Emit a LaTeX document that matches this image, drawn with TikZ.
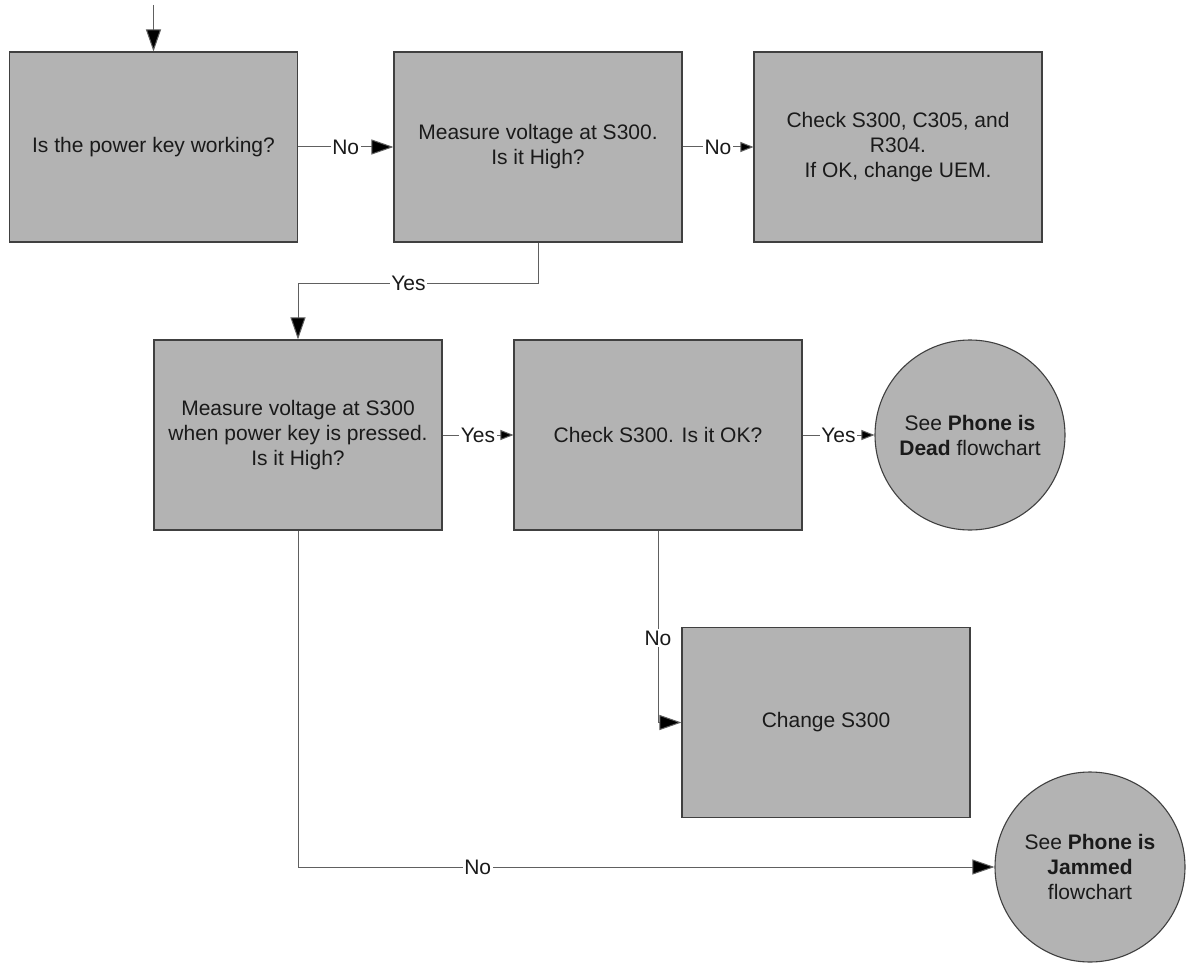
\documentclass[tikz,border=0pt]{standalone}
\usepackage{fontspec}
\setmainfont{Liberation Sans}
\usetikzlibrary{arrows.meta}
\definecolor{boxfill}{HTML}{B3B3B3}
\definecolor{boxline}{HTML}{404040}
\definecolor{conline}{HTML}{606060}
\definecolor{txtcol}{HTML}{1A1A1A}
\begin{document}
\begin{tikzpicture}[x=1pt,y=-1pt,
  every node/.style={font=\fontsize{21}{25}\selectfont, text=txtcol},
  box/.style={draw=boxline, line width=1.1pt, fill=boxfill, minimum width=288pt, minimum height=190pt, inner sep=0pt, align=center},
  endcircle/.style={draw=boxline, line width=1.1pt, fill=boxfill, circle, inner sep=0pt, minimum size=190pt, align=center},
  con/.style={draw=conline, line width=1pt},
  bigarrow/.style={con, -{Triangle[length=22pt,width=15pt,fill=black]}},
  smallarrow/.style={con, -{Triangle[length=13pt,width=10pt,fill=black]}},
  lbl/.style={fill=white, inner sep=1.5pt}
]
\useasboundingbox (0,0) rectangle (1186,963);
\fill[white] (0,0) rectangle (1186,963);

\node[box] (b1) at (153.5,147) {Is the power key working?};
\node[box] (b2) at (538,147) {Measure voltage at S300.\\Is it High?};
\node[box] (b3) at (898,147) {Check S300, C305, and\\R304.\\If OK, change UEM.};
\node[box] (b4) at (298,435) {Measure voltage at S300\\when power key is pressed.\\Is it High?};
\node[box] (b5) at (658,435) {Check S300. Is it OK?};
\node[box] (b6) at (826,722.5) {Change S300};
\node[endcircle] (c1) at (970,435) {See \textbf{Phone is}\\\textbf{Dead} flowchart};
\node[endcircle] (c2) at (1090,867) {See \textbf{Phone is}\\\textbf{Jammed}\\flowchart};

\coordinate (start) at (153.5,5);
\draw[bigarrow] (start) -- (b1.north);
\draw[bigarrow] (b1.east) -- node[lbl] (l1) {No} (b2.west);
\draw[smallarrow] (b2.east) -- node[lbl] (l2) {No} (b3.west);
\draw[bigarrow] (b2.south) -- ++(0,41) -| node[lbl, pos=0.27] (l3) {Yes} (b4.north);
\draw[smallarrow] (b4.east) -- node[lbl] (l4) {Yes} (b5.west);
\draw[smallarrow] (b5.east) -- node[lbl] (l5) {Yes} (c1.west);
\draw[bigarrow] (b5.south) |- node[lbl, pos=0.28] (l6) {No} (b6.west);
\draw[bigarrow] (b4.south) |- node[lbl, pos=0.629] (l7) {No} (c2.west);
\end{tikzpicture}
\end{document}
